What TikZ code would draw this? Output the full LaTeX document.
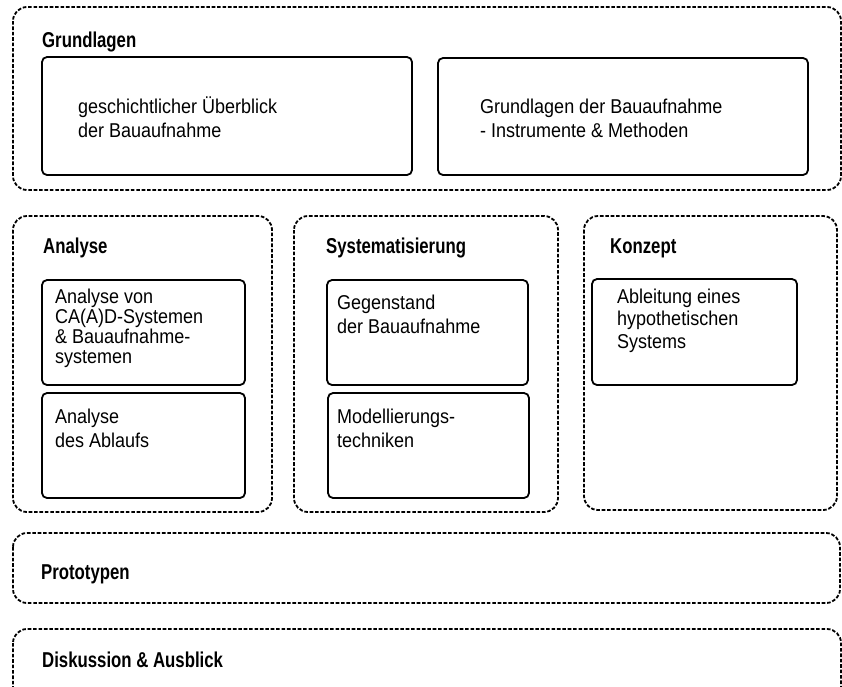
\documentclass[tikz,border=0pt]{standalone}
\usepackage{fontspec}
\setmainfont{Liberation Sans}[FakeStretch=0.9]
\newfontfamily\headfont{Liberation Sans}[FakeStretch=0.78]
\tikzset{frame/.style={draw,line width=1.8pt,dash pattern=on 3.6pt off 1.8pt,rounded corners=14pt}}
\tikzset{box/.style={draw,line width=1.8pt,rounded corners=5pt}}
\tikzset{heading/.style={anchor=base west,inner sep=0pt,font=\headfont\bfseries\fontsize{21.5}{24}\selectfont}}
\tikzset{entry/.style={anchor=base west,inner sep=0pt,align=left,font=\fontsize{20}{23.5}\selectfont}}

\begin{document}
\begin{tikzpicture}[x=1pt,y=-1pt]
      \clip (0,0) rectangle (842,686);
      \fill[white] (0,0) rectangle (842,686);

      % Grundlagen (base = last line)
      \draw[frame] (13,7) rectangle (841,190);
      \node[heading] (grund) at (42,47) {Grundlagen};
      \draw[box] (42,57) rectangle (412,175);
      \draw[box] (438,58) rectangle (808,175);
      \node[entry] (gesch) at (78,137) {geschichtlicher Überblick\\der Bauaufnahme};
      \node[entry] (instr) at (480,137) {Grundlagen der Bauaufnahme\\- Instrumente \& Methoden};

      % Analyse
      \draw[frame] (13,216) rectangle (272,512);
      \node[heading] (ana) at (43,253) {Analyse};
      \draw[box] (42,280) rectangle (245,385);
      \draw[box] (42,393) rectangle (245,498);
      \node[entry,font=\fontsize{20}{20}\selectfont] (cad) at (55,363) {Analyse von\\CA(A)D-Systemen\\\& Bauaufnahme-\\systemen};
      \node[entry] (ablauf) at (55,447) {Analyse\\des Ablaufs};

      % Systematisierung
      \draw[frame] (294,216) rectangle (558,512);
      \node[heading] (sys) at (326,253) {Systematisierung};
      \draw[box] (327,280) rectangle (528,385);
      \draw[box] (328,393) rectangle (529,498);
      \node[entry] (gegen) at (337,333) {Gegenstand\\der Bauaufnahme};
      \node[entry] (modell) at (337,447) {Modellierungs-\\techniken};

      % Konzept
      \draw[frame] (584,216) rectangle (837,510);
      \node[heading] (konz) at (610,253) {Konzept};
      \draw[box] (592,279) rectangle (797,385);
      \node[entry,font=\fontsize{20}{22.5}\selectfont] (hypo) at (617,348) {Ableitung eines\\hypothetischen\\Systems};

      % Prototypen, Diskussion
      \draw[frame] (13,533) rectangle (840,603);
      \node[heading] (proto) at (41,579) {Prototypen};
      \draw[frame] (13,629) rectangle (841,720);
      \node[heading] (disk) at (42,667) {Diskussion \& Ausblick};
\end{tikzpicture}
\end{document}
